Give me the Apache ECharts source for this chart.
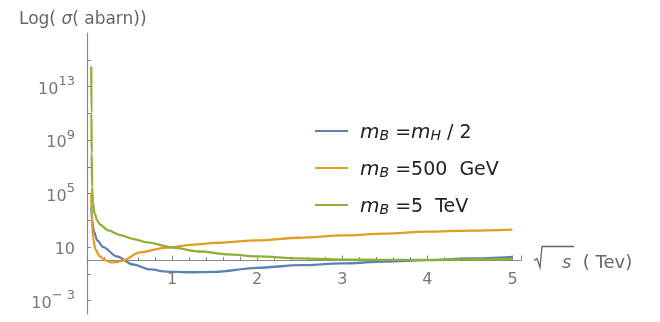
<!DOCTYPE html>
<html>
<head>
<meta charset="utf-8">
<script src="https://cdn.jsdelivr.net/npm/echarts@6/dist/echarts.min.js"></script>
<style>
  html, body { margin: 0; padding: 0; background: #fff; }
  #chart { width: 660px; height: 322px; }
</style>
</head>
<body>
<div id="chart"></div>
<script>
// values are log10(sigma / abarn) against sqrt(s) in TeV
const seriesNames = ['mB=mH/2', 'mB=500 GeV', 'mB=5 TeV']
const seriesColors = ['#5E81B5', '#E19C24', '#8FB032']

const blueX = [0.05, 0.06, 0.08, 0.12, 0.19, 0.35, 0.54, 0.74, 0.94, 1.2, 1.5, 2.0, 2.5, 3.0, 3.5, 4.0, 4.5, 5.0]
const blueY = [4.0, 3.0, 2.2, 1.5, 1.0, 0.3, -0.3, -0.67, -0.83, -0.88, -0.85, -0.55, -0.35, -0.22, -0.08, 0.02, 0.15, 0.27]

const orangeX = [0.05, 0.055, 0.07, 0.1, 0.15, 0.22, 0.29, 0.36, 0.42, 0.62, 0.94, 1.29, 1.5, 2.0, 2.5, 3.0, 3.5, 4.0, 4.5, 5.0]
const orangeY = [5.0, 3.5, 1.7, 0.8, 0.3, 0.0, -0.15, -0.1, 0.0, 0.6, 0.97, 1.2, 1.32, 1.5, 1.7, 1.87, 2.0, 2.15, 2.23, 2.3]

const greenX = [0.05, 0.052, 0.055, 0.06, 0.07, 0.09, 0.12, 0.15, 0.25, 0.39, 0.55, 0.71, 1.0, 1.33, 1.65, 2.0, 2.5, 3.0, 3.5, 4.0, 4.5, 5.0]
const greenY = [14.5, 11, 8, 5.5, 4.3, 3.5, 3.0, 2.7, 2.25, 1.9, 1.6, 1.35, 0.97, 0.67, 0.45, 0.3, 0.15, 0.07, 0.04, 0.05, 0.08, 0.12]

const yTickValues = [-3, -1, 1, 3, 5, 7, 9, 11, 13, 15]
const yLabelValues = [-3, 1, 5, 9, 13]

const legendText = {
  'mB=mH/2': '{g|}{i|m}{sub|B}{t| =}{i|m}{sub|H}{t| / 2}',
  'mB=500 GeV': '{g|}{i|m}{sub|B}{t| =500  GeV}',
  'mB=5 TeV': '{g|}{i|m}{sub|B}{t| =5  TeV}'
}

const pairs = (xs, ys) => xs.map((x, i) => [x, ys[i]])
const allData = [pairs(blueX, blueY), pairs(orangeX, orangeY), pairs(greenX, greenY)]

const font = 'DejaVu Sans, Liberation Sans, sans-serif'
const chart = echarts.init(document.getElementById('chart'))

const option = {
  backgroundColor: '#fff',
  animation: false,
  textStyle: { fontFamily: font },
  title: {
    text: 'Log( {g|σ}( abarn))',
    left: 14,
    top: 6,
    textStyle: {
      fontFamily: font,
      fontSize: 17,
      fontWeight: 'normal',
      color: '#666',
      rich: {
        g: { fontFamily: font, fontSize: 17, fontStyle: 'italic', color: '#666' }
      }
    }
  },
  legend: {
    orient: 'vertical',
    left: 310,
    top: 118,
    itemWidth: 33,
    itemHeight: 2,
    itemGap: 17,
    icon: 'rect',
    data: seriesNames,
    formatter: name => legendText[name],
    textStyle: {
      fontFamily: font,
      color: '#222',
      rich: {
        g: { width: 7 },
        i: { fontFamily: font, fontSize: 20, fontStyle: 'italic', color: '#222', lineHeight: 24, verticalAlign: 'bottom' },
        t: { fontFamily: font, fontSize: 19, color: '#222', lineHeight: 24, verticalAlign: 'bottom' },
        sub: { fontFamily: font, fontSize: 14, fontStyle: 'italic', color: '#222', lineHeight: 10, verticalAlign: 'bottom' }
      }
    }
  },
  grid: { left: 87, right: 139, top: 33, bottom: 8, outerBoundsMode: 'none' },
  xAxis: {
    type: 'value',
    min: 0,
    max: 5.1,
    interval: 1,
    position: 'bottom',
    offset: 0,
    name: '{s|s}{t|  ( Tev)}',
    nameLocation: 'end',
    nameGap: 41,
    nameTextStyle: {
      align: 'left',
      padding: [6, 0, 0, 0],
      rich: {
        s: { fontFamily: font, fontSize: 18, fontStyle: 'italic', color: '#666' },
        t: { fontFamily: font, fontSize: 18, color: '#666' }
      }
    },
    axisLine: { onZero: false, lineStyle: { color: '#888', width: 1.2 } },
    axisTick: { inside: true, length: 5, lineStyle: { color: '#888' } },
    minorTick: { show: true, splitNumber: 5, length: 3.5, lineStyle: { color: '#888' } },
    splitLine: { show: false },
    axisLabel: {
      margin: 11,
      fontSize: 16,
      color: '#777',
      formatter: v => (Number.isInteger(v) && v > 0 ? String(v) : '')
    }
  },
  yAxis: {
    type: 'value',
    min: -4,
    max: 17,
    axisLine: { show: true, onZero: false, lineStyle: { color: '#888', width: 1.2 } },
    axisTick: { show: true, inside: true, length: 4, customValues: yTickValues, lineStyle: { color: '#888' } },
    splitLine: { show: false },
    axisLabel: {
      margin: 12,
      customValues: yLabelValues,
      formatter: v => (v === 1 ? '{b|10}' : '{b|10}{s|' + (v < 0 ? '− ' + (-v) : v) + '}'),
      rich: {
        b: { fontFamily: font, fontSize: 16, color: '#777', lineHeight: 22, verticalAlign: 'bottom' },
        s: { fontFamily: font, fontSize: 13, color: '#777', lineHeight: 17, verticalAlign: 'top' }
      }
    }
  },
  series: seriesNames.map((name, i) => ({
    name: name,
    type: 'line',
    data: allData[i],
    showSymbol: false,
    smooth: 0.3,
    smoothMonotone: 'x',
    lineStyle: { color: seriesColors[i], width: 2.3 },
    itemStyle: { color: seriesColors[i] }
  }))
}

chart.setOption(option)

// move the x axis (line, ticks, labels) up to y = 0, like Mathematica's crossing axes
const zeroPt = chart.convertToPixel({ gridIndex: 0 }, [5.1, 0])
const bottomPt = chart.convertToPixel({ gridIndex: 0 }, [5.1, -4])
chart.setOption({
  xAxis: { offset: zeroPt[1] - bottomPt[1] },
  // radical sign for the x axis name, next to the end of the axis line
  graphic: [{
    type: 'polyline',
    x: zeroPt[0],
    y: zeroPt[1],
    shape: { points: [[13, 0], [16, -2], [19, 7], [21, -14], [53, -14]] },
    style: { stroke: '#666', lineWidth: 1.3, fill: null }
  }]
})
</script>
</body>
</html>
